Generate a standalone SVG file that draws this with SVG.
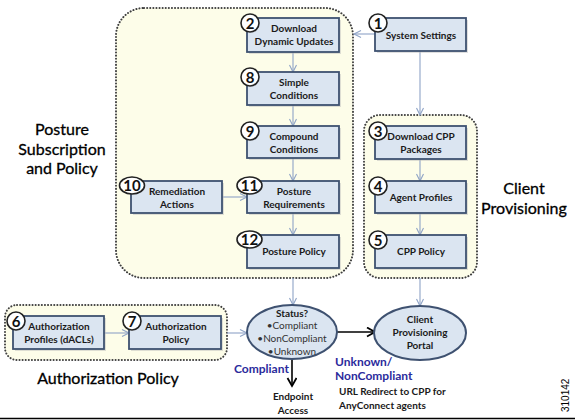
<svg xmlns="http://www.w3.org/2000/svg" width="575" height="420" viewBox="0 0 575 420">
<style>
.grp{fill:#fdfde9;stroke:#3f3f3f;stroke-width:2;stroke-dasharray:0.1 3;stroke-linecap:round}
.box{fill:#dbe5f1;stroke:#3e5170;stroke-width:1.8}
.sh{fill:#b8b8b8;opacity:0.45}
.num{fill:#fff;stroke:#222;stroke-width:1.6}
.nt{font-family:Lato,"Liberation Sans",sans-serif;font-weight:bold;font-size:15px;fill:#111;text-anchor:middle}
.bt{font-family:Lato,"Liberation Sans",sans-serif;font-weight:bold;font-size:10px;fill:#1a1a1a;text-anchor:middle}
.big{font-family:Lato,"Liberation Sans",sans-serif;font-size:16px;fill:#000;stroke:#000;stroke-width:0.3;text-anchor:middle}
.st{font-family:Lato,"Liberation Sans",sans-serif;font-size:10px;fill:#333;text-anchor:middle}
.blue{font-family:Lato,"Liberation Sans",sans-serif;font-weight:bold;font-size:12px;fill:#2b2b9c}
.lt{fill:none;stroke:#8ea3c6;stroke-width:1.1}
.bk{fill:none;stroke:#000;stroke-width:1.6}
.ell{fill:#dbe5f1;stroke:#3e5170;stroke-width:2}
</style>
<defs>
<marker id="a" markerUnits="userSpaceOnUse" markerWidth="10" markerHeight="10" refX="8" refY="4" orient="auto">
<path d="M1,0.5 L8,4 L1,7.5" fill="none" stroke="#8ea3c6" stroke-width="1.1"/>
</marker>
<marker id="b" markerUnits="userSpaceOnUse" markerWidth="12" markerHeight="12" refX="9" refY="5" orient="auto">
<path d="M1,0.5 L9,5 L1,9.5" fill="none" stroke="#000" stroke-width="1.8"/>
</marker>
</defs>
<rect width="575" height="420" fill="#fff"/>

<g id="posture-group">
<rect class="grp" x="116" y="8" width="237" height="270" rx="28"/>
</g>
<g id="cp-group">
<rect class="grp" x="364" y="115" width="113" height="163" rx="16"/>
</g>
<g id="auth-group">
<rect class="grp" x="5" y="305" width="222" height="55" rx="12"/>
</g>

<g id="connectors">
<line class="lt" x1="375" y1="34" x2="354" y2="34" marker-end="url(#a)"/>
<line class="lt" x1="420" y1="51" x2="420" y2="115" marker-end="url(#a)"/>
<line class="lt" x1="293" y1="52" x2="293" y2="72" marker-end="url(#a)"/>
<line class="lt" x1="293" y1="105" x2="293" y2="126" marker-end="url(#a)"/>
<line class="lt" x1="293" y1="158" x2="293" y2="181" marker-end="url(#a)"/>
<line class="lt" x1="293" y1="213" x2="293" y2="235" marker-end="url(#a)"/>
<line class="lt" x1="222" y1="197" x2="247" y2="197" marker-end="url(#a)"/>
<line class="lt" x1="293" y1="278" x2="293" y2="305" marker-end="url(#a)"/>
<line class="lt" x1="420" y1="159" x2="420" y2="181" marker-end="url(#a)"/>
<line class="lt" x1="420" y1="213" x2="420" y2="235" marker-end="url(#a)"/>
<line class="lt" x1="420" y1="278" x2="420" y2="306" marker-end="url(#a)"/>
<line class="lt" x1="104" y1="333" x2="129" y2="333" marker-end="url(#a)"/>
<line class="lt" x1="227" y1="333" x2="247" y2="333" marker-end="url(#a)"/>
<line class="bk" x1="337" y1="332" x2="375" y2="332" marker-end="url(#b)"/>
<line class="bk" x1="292" y1="359" x2="292" y2="386" marker-end="url(#b)"/>
</g>

<g id="n1">
<rect class="sh" x="377" y="20" width="91" height="33"/>
<rect class="box" x="375" y="18" width="91" height="33"/>
<circle class="num" cx="378" cy="23" r="9"/><text class="nt" x="378" y="28.5">1</text>
<text class="bt" x="421" y="39">System Settings</text>
</g>
<g id="n2">
<rect class="sh" x="249" y="20" width="92" height="34"/>
<rect class="box" x="247" y="18" width="92" height="34"/>
<circle class="num" cx="250" cy="23" r="9"/><text class="nt" x="250" y="28.5">2</text>
<text class="bt" x="294" y="32">Download</text>
<text class="bt" x="294" y="45">Dynamic Updates</text>
</g>
<g id="n8">
<rect class="sh" x="249" y="74" width="92" height="33"/>
<rect class="box" x="247" y="72" width="92" height="33"/>
<circle class="num" cx="250" cy="77" r="9"/><text class="nt" x="250" y="82.5">8</text>
<text class="bt" x="294" y="86">Simple</text>
<text class="bt" x="294" y="99">Conditions</text>
</g>
<g id="n9">
<rect class="sh" x="249" y="128" width="92" height="32"/>
<rect class="box" x="247" y="126" width="92" height="32"/>
<circle class="num" cx="250" cy="131" r="9"/><text class="nt" x="250" y="136.5">9</text>
<text class="bt" x="294" y="140">Compound</text>
<text class="bt" x="294" y="153">Conditions</text>
</g>
<g id="n11">
<rect class="sh" x="249" y="183" width="92" height="32"/>
<rect class="box" x="247" y="181" width="92" height="32"/>
<ellipse class="num" cx="249.5" cy="185.5" rx="12.5" ry="8.5"/><text class="nt" x="249.5" y="191">11</text>
<text class="bt" x="294" y="195">Posture</text>
<text class="bt" x="294" y="208">Requirements</text>
</g>
<g id="n12">
<rect class="sh" x="249" y="237" width="92" height="33"/>
<rect class="box" x="247" y="235" width="92" height="33"/>
<ellipse class="num" cx="249.5" cy="239.5" rx="12.5" ry="8.5"/><text class="nt" x="249.5" y="245">12</text>
<text class="bt" x="294" y="255">Posture Policy</text>
</g>
<g id="n10">
<rect class="sh" x="133" y="183" width="91" height="32"/>
<rect class="box" x="131" y="181" width="91" height="32"/>
<ellipse class="num" cx="132" cy="185.5" rx="12.5" ry="8.5"/><text class="nt" x="132" y="191">10</text>
<text class="bt" x="177" y="195">Remediation</text>
<text class="bt" x="177" y="208">Actions</text>
</g>
<g id="n3">
<rect class="sh" x="377" y="128" width="91" height="33"/>
<rect class="box" x="375" y="126" width="91" height="33"/>
<circle class="num" cx="378" cy="131" r="9"/><text class="nt" x="378" y="136.5">3</text>
<text class="bt" x="421" y="140">Download CPP</text>
<text class="bt" x="421" y="153">Packages</text>
</g>
<g id="n4">
<rect class="sh" x="377" y="183" width="91" height="32"/>
<rect class="box" x="375" y="181" width="91" height="32"/>
<circle class="num" cx="378" cy="186" r="9"/><text class="nt" x="378" y="191.5">4</text>
<text class="bt" x="421" y="201">Agent Profiles</text>
</g>
<g id="n5">
<rect class="sh" x="377" y="237" width="91" height="33"/>
<rect class="box" x="375" y="235" width="91" height="33"/>
<circle class="num" cx="378" cy="240" r="9"/><text class="nt" x="378" y="245.5">5</text>
<text class="bt" x="421" y="255">CPP Policy</text>
</g>
<g id="n6">
<rect class="sh" x="15" y="318" width="91" height="33"/>
<rect class="box" x="13" y="316" width="91" height="33"/>
<circle class="num" cx="16" cy="321" r="9"/><text class="nt" x="16" y="326.5">6</text>
<text class="bt" x="59" y="330">Authorization</text>
<text class="bt" x="59" y="343">Profiles (dACLs)</text>
</g>
<g id="n7">
<rect class="sh" x="131" y="318" width="92" height="33"/>
<rect class="box" x="129" y="316" width="92" height="33"/>
<circle class="num" cx="132" cy="321" r="9"/><text class="nt" x="132" y="326.5">7</text>
<text class="bt" x="176" y="330">Authorization</text>
<text class="bt" x="176" y="343">Policy</text>
</g>
<g id="status">
<ellipse class="ell" cx="292" cy="332" rx="45" ry="27"/>
<text class="bt" x="292" y="317">Status?</text>
<text class="st" x="292" y="329">•Compliant</text>
<text class="st" x="292" y="342">•NonCompliant</text>
<text class="st" x="292" y="355">•Unknown</text>
</g>
<g id="portal">
<ellipse class="ell" cx="420" cy="333" rx="46" ry="27"/>
<text class="bt" x="420" y="323">Client</text>
<text class="bt" x="420" y="336">Provisioning</text>
<text class="bt" x="420" y="349">Portal</text>
</g>

<g id="labels">
<text class="big" x="62" y="135">Posture</text>
<text class="big" x="62" y="155">Subscription</text>
<text class="big" x="62" y="174">and Policy</text>
<text class="big" x="524" y="194">Client</text>
<text class="big" x="524" y="214">Provisioning</text>
<text class="big" x="108" y="384">Authorization Policy</text>
<text class="blue" x="234" y="373">Compliant</text>
<text class="blue" x="335" y="366">Unknown/</text>
<text class="blue" x="335" y="380">NonCompliant</text>
<text class="bt" x="339" y="395" style="text-anchor:start">URL Redirect to CPP for</text>
<text class="bt" x="339" y="409" style="text-anchor:start">AnyConnect agents</text>
<text class="bt" x="293" y="400">Endpoint</text>
<text class="bt" x="293" y="414">Access</text>
<text x="569" y="412" transform="rotate(-90 569 412)" font-family="Liberation Sans, Arial, sans-serif" font-size="10" fill="#000">310142</text>
</g>
<line x1="0" y1="418.5" x2="575" y2="418.5" stroke="#000" stroke-width="1.5"/>
</svg>
